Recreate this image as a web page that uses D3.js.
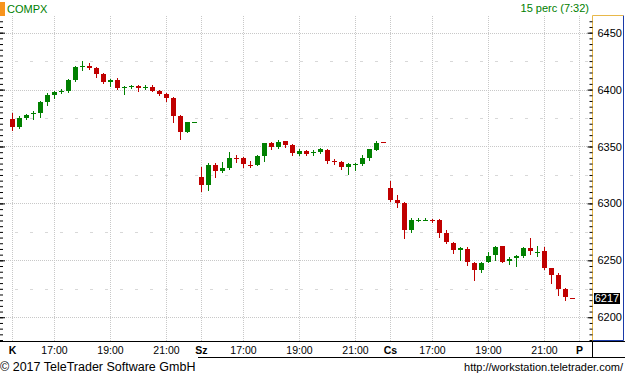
<!DOCTYPE html>
<html>
<head>
<meta charset="utf-8">
<script src="https://cdn.jsdelivr.net/npm/d3@7"></script>
<style>
    body { margin: 0; background: #fff; }
    text { font-family: "Liberation Sans", Arial, sans-serif; }
</style>
</head>
<body>
<div id="chart"></div>
<script>
// 15 minute candles, slot 0 = 15:30 of the first day, 27 slots per day
const opens = [
    6374.3, 6367.0, 6375.2, 6378.7, 6379.0, 6389.2, 6395.6, 6398.7, 6398.9, 6408.5,
    6420.8, 6421.1, 6419.3, 6413.8, 6406.8, 6408.5, 6402.2, 6402.4, 6403.5, 6402.2,
    6402.4, 6399.1, 6396.5, 6392.7, 6377.0, 6362.3, 6371.7,
    6323.4, 6316.4, 6334.0, 6328.7, 6331.1, 6340.0, 6340.1, 6333.5, 6333.9, 6341.8,
    6353.2, 6349.7, 6354.4, 6351.5, 6343.6, 6346.2, 6343.9, 6345.4, 6347.1, 6337.7,
    6336.6, 6332.2, 6334.6, 6334.8, 6340.1, 6347.1, 6354.0,
    6313.8, 6302.6, 6300.0, 6276.3, 6285.5, 6285.5, 6285.8, 6285.7, 6274.3, 6265.5,
    6258.8, 6260.3, 6247.9, 6241.2, 6248.2, 6254.4, 6262.3, 6249.1, 6251.8, 6253.5,
    6260.5, 6257.4, 6257.9, 6243.6, 6236.8, 6225.2, 6217.3
]
const highs = [
    6379.8, 6376.9, 6378.7, 6381.3, 6390.1, 6396.8, 6399.1, 6400.6, 6409.4, 6421.1,
    6425.2, 6423.2, 6419.6, 6414.4, 6409.6, 6410.0, 6403.0, 6404.4, 6404.1, 6403.9,
    6404.1, 6399.7, 6397.1, 6393.3, 6377.8, 6371.7, 6371.7,
    6331.9, 6335.7, 6335.4, 6336.6, 6345.4, 6342.7, 6341.2, 6337.5, 6342.7, 6353.2,
    6354.1, 6355.9, 6355.0, 6352.4, 6348.0, 6347.1, 6347.1, 6348.3, 6348.0, 6338.9,
    6337.5, 6335.7, 6335.7, 6342.7, 6348.2, 6355.0, 6354.0,
    6319.3, 6307.6, 6301.5, 6286.8, 6287.5, 6287.0, 6286.6, 6286.3, 6276.9, 6266.4,
    6261.4, 6261.4, 6248.9, 6248.9, 6257.6, 6262.3, 6262.9, 6252.6, 6254.4, 6262.0,
    6269.3, 6262.3, 6261.4, 6243.6, 6238.9, 6226.1, 6217.3
]
const lows = [
    6364.6, 6366.3, 6374.3, 6374.3, 6376.3, 6386.6, 6392.5, 6397.4, 6398.2, 6407.6,
    6417.3, 6418.2, 6411.1, 6405.6, 6403.2, 6400.9, 6396.2, 6401.8, 6399.1, 6400.6,
    6398.6, 6395.6, 6390.4, 6371.9, 6357.0, 6362.3, 6371.7,
    6310.5, 6311.9, 6323.4, 6327.8, 6330.2, 6336.6, 6332.2, 6332.2, 6333.9, 6337.5,
    6348.0, 6348.8, 6349.7, 6342.7, 6342.7, 6342.1, 6342.7, 6344.5, 6335.4, 6335.0,
    6330.4, 6326.0, 6329.6, 6333.9, 6338.3, 6347.1, 6353.8,
    6301.8, 6296.5, 6269.3, 6274.6, 6284.2, 6285.0, 6283.3, 6270.8, 6264.9, 6256.1,
    6250.0, 6245.6, 6232.5, 6239.5, 6248.2, 6250.0, 6248.2, 6246.5, 6244.7, 6252.6,
    6255.3, 6254.0, 6242.7, 6230.4, 6219.9, 6214.9, 6217.0
]
const closes = [
    6367.5, 6375.2, 6377.5, 6379.0, 6389.2, 6395.4, 6398.2, 6399.0, 6408.5, 6420.2,
    6421.1, 6419.3, 6413.8, 6406.8, 6408.8, 6401.5, 6402.5, 6403.5, 6401.8, 6402.4,
    6399.1, 6396.5, 6393.0, 6377.0, 6362.3, 6371.7, 6371.7,
    6315.8, 6334.0, 6328.7, 6331.3, 6340.1, 6339.7, 6334.2, 6333.2, 6341.8, 6353.2,
    6349.7, 6354.1, 6351.5, 6343.9, 6346.2, 6343.6, 6345.6, 6347.4, 6337.7, 6337.4,
    6331.9, 6334.8, 6334.9, 6340.1, 6347.4, 6353.2, 6353.8,
    6303.3, 6300.0, 6276.3, 6285.7, 6285.8, 6285.8, 6285.5, 6273.7, 6265.8, 6258.8,
    6260.5, 6248.2, 6241.2, 6247.9, 6254.1, 6261.4, 6248.9, 6251.2, 6253.5, 6260.5,
    6257.9, 6257.7, 6243.6, 6236.8, 6225.2, 6217.5, 6217.0
]

const priceTicks = [6200, 6250, 6300, 6350, 6400, 6450]
const halfTicks = [6225, 6275, 6325, 6375, 6425]
const timeSlots = [0, 6, 14, 22, 27, 33, 41, 49, 54, 60, 68, 76, 81]
const timeLabels = ["K", "17:00", "19:00", "21:00", "Sz", "17:00", "19:00", "21:00", "Cs", "17:00", "19:00", "21:00", "P"]
const dayLabels = ["K", "Sz", "Cs", "P"]
const lastValue = 6217

const width = 625, height = 377
const plot = { left: 0, right: 593, top: 16, bottom: 341 }
const up = "#008000", down = "#c00000"

const svg = d3.select("#chart")
    .append("svg")
    .attr("width", width)
    .attr("height", height)

/* scales */
const x = d3.scaleLinear().domain([0, 81]).range([12.5, 579.5])
const y = d3.scaleLinear().domain([6178.7, 6464.2]).range([341.5, 16.5])
const py = v => Math.round(y(v)) + 0.5

/* grid */
const grid = svg.append("g")
grid.selectAll("line.h")
    .data(priceTicks)
    .enter()
    .append("line")
    .attr("x1", 0).attr("x2", plot.right)
    .attr("y1", py).attr("y2", py)
    .attr("stroke", "#c8c8c8")
    .attr("stroke-dasharray", "1,1")
grid.selectAll("line.m")
    .data(halfTicks)
    .enter()
    .append("line")
    .attr("x1", 0).attr("x2", plot.right)
    .attr("y1", py).attr("y2", py)
    .attr("stroke", "#d8d8d8")
    .attr("stroke-dasharray", "3,12")
grid.selectAll("line.v")
    .data(timeSlots)
    .enter()
    .append("line")
    .attr("x1", d => x(d)).attr("x2", d => x(d))
    .attr("y1", plot.top).attr("y2", plot.bottom)
    .attr("stroke", "#c8c8c8")
    .attr("stroke-dasharray", "1,1")

/* candles */
const candles = d3.range(opens.length).map(i => ({
    i: i, o: opens[i], h: highs[i], l: lows[i], c: closes[i]
}))
const color = d => d.c >= d.o ? up : down

svg.selectAll("line.wick")
    .data(candles)
    .enter()
    .append("line")
    .attr("x1", d => x(d.i)).attr("x2", d => x(d.i))
    .attr("y1", d => Math.round(y(d.h)))
    .attr("y2", d => Math.round(y(d.l)) + 1)
    .attr("stroke", color)

svg.selectAll("rect.body")
    .data(candles)
    .enter()
    .append("rect")
    .attr("x", d => x(d.i) - 2.5)
    .attr("y", d => Math.round(y(Math.max(d.o, d.c))))
    .attr("width", 5)
    .attr("height", d => Math.max(1, Math.round(y(Math.min(d.o, d.c))) - Math.round(y(Math.max(d.o, d.c)))))
    .attr("fill", color)

/* left ticks */
svg.append("g")
    .call(d3.axisRight(y).tickValues(d3.range(6180, 6465, 5)).tickSize(3).tickFormat(""))
    .call(g => g.select(".domain").remove())
svg.append("g")
    .call(d3.axisRight(y).tickValues(priceTicks).tickSize(5).tickFormat(""))
    .call(g => g.select(".domain").remove())

/* right axis box */
svg.append("rect")
    .attr("x", plot.right).attr("y", plot.top)
    .attr("width", 31).attr("height", plot.bottom - plot.top)
    .attr("fill", "#fff")
svg.append("path")
    .attr("d", `M${plot.right - 0.5},${plot.bottom}V${plot.top - 0.5}H623`)
    .attr("fill", "none").attr("stroke", "#e8b84a")
svg.append("path")
    .attr("d", `M623.5,${plot.top - 0.5}V340.5H${plot.right}`)
    .attr("fill", "none").attr("stroke", "#1a3aa8")

svg.append("g")
    .attr("transform", `translate(${plot.right - 0.5}, 0)`)
    .call(d3.axisRight(y).tickValues(d3.range(6180, 6465, 5)).tickSize(-3).tickFormat(""))
    .call(g => g.select(".domain").remove())
svg.append("g")
    .attr("transform", `translate(${plot.right - 0.5}, 0)`)
    .call(d3.axisRight(y).tickValues(priceTicks).tickSize(-5).tickPadding(5).tickFormat(d3.format("d")))
    .call(g => g.select(".domain").remove())
    .call(g => g.selectAll("text")
        .attr("font-family", "Liberation Sans, Arial, sans-serif")
        .attr("font-size", 11)
        .attr("fill", "#000"))

/* last value */
svg.append("rect")
    .attr("x", 594).attr("y", Math.round(y(lastValue)) - 5)
    .attr("width", 26).attr("height", 11)
    .attr("fill", "#000")
svg.append("text")
    .attr("x", 607).attr("y", y(lastValue))
    .attr("dy", "0.35em")
    .attr("text-anchor", "middle")
    .attr("font-size", 11)
    .attr("fill", "#fff")
    .text(lastValue)

/* time axis */
svg.append("line")
    .attr("x1", 0).attr("x2", width)
    .attr("y1", plot.bottom + 0.5).attr("y2", plot.bottom + 0.5)
    .attr("stroke", "#000")
svg.append("line")
    .attr("x1", 592.5).attr("x2", 592.5)
    .attr("y1", plot.bottom).attr("y2", 358)
    .attr("stroke", "#000")
svg.append("line")
    .attr("x1", 198).attr("x2", width)
    .attr("y1", 357.5).attr("y2", 357.5)
    .attr("stroke", "#000")

svg.selectAll("text.time")
    .data(timeSlots)
    .enter()
    .append("text")
    .attr("x", d => x(d))
    .attr("y", 354)
    .attr("text-anchor", "middle")
    .attr("font-size", 10.5)
    .attr("font-weight", (d, i) => dayLabels.includes(timeLabels[i]) ? "bold" : "normal")
    .attr("fill", "#000")
    .text((d, i) => timeLabels[i])

/* header */
svg.append("rect")
    .attr("x", 0).attr("y", 2)
    .attr("width", 5).attr("height", 14)
    .attr("fill", "#f7941d")
svg.append("text")
    .attr("x", 7).attr("y", 13)
    .attr("font-size", 11)
    .attr("fill", up)
    .text("COMPX")
svg.append("text")
    .attr("x", 589).attr("y", 12)
    .attr("text-anchor", "end")
    .attr("font-size", 11)
    .attr("fill", up)
    .text("15 perc (7:32)")

/* footer */
svg.append("text")
    .attr("x", 0).attr("y", 371)
    .attr("font-size", 12.5)
    .attr("fill", "#000")
    .text("© 2017 TeleTrader Software GmbH")
svg.append("text")
    .attr("x", 623).attr("y", 371)
    .attr("text-anchor", "end")
    .attr("font-size", 11)
    .attr("fill", "#000")
    .text("http://workstation.teletrader.com/")
</script>
</body>
</html>
